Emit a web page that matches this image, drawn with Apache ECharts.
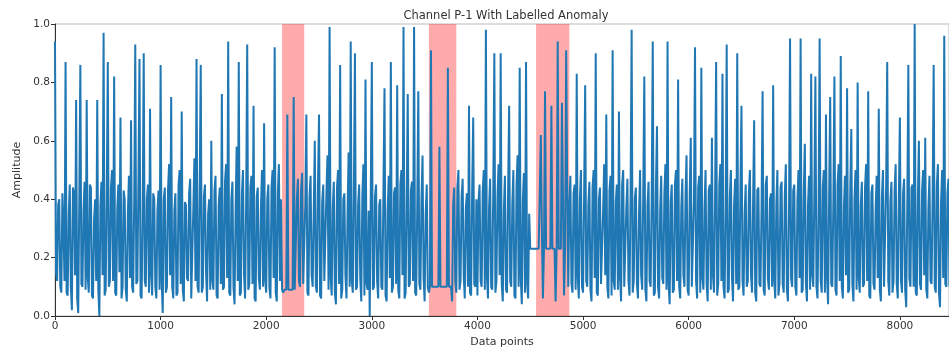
<!DOCTYPE html>
<html>
<head>
<meta charset="utf-8">
<title>Channel P-1 With Labelled Anomaly</title>
<script src="https://cdn.jsdelivr.net/npm/echarts@6/dist/echarts.min.js"></script>
<style>
  html, body { margin: 0; padding: 0; background: #fff; }
</style>
</head>
<body>
<div id="main" style="width: 949px; height: 354px;"></div>
<script>
// amplitude: "seg" values sit every 20 data points,
// "mid" values sit halfway between them (x = i*20 + 10)
var step = 20;
var seg0 = [0.94,0.12,0.40,0.08,0.30,0.87,0.07,0.45,0.02,0.42,0.74,0.01,0.86,0.10,0.46,0.74,0.08,0.44,0.06,0.40,
            0.74,0.00,0.46,0.97,0.09,0.87,0.12,0.50,0.82,0.07,0.45,0.68,0.10,0.40,0.05,0.48,0.67,0.08,0.93,0.12,
            0.88,0.06,0.90,0.10,0.45,0.71,0.07,0.40,0.06,0.43];
var seg1 = [0.86,0.01,0.44,0.10,0.52,0.75,0.06,0.42,0.08,0.50,0.70,0.05,0.38,0.12,0.47,0.06,0.54,0.88,0.08,0.86,
            0.10,0.45,0.05,0.40,0.60,0.09,0.48,0.06,0.44,0.76,0.10,0.52,0.94,0.07,0.46,0.04,0.58,0.87,0.08,0.50,
            0.06,0.93,0.11,0.48,0.72,0.05,0.44,0.09,0.50,0.66];
var seg2 = [0.08,0.45,0.06,0.50,0.92,0.05,0.52,0.40,0.08,0.09,0.69,0.09,0.09,0.75,0.09,0.47,0.10,0.49,0.11,0.69,
            0.07,0.48,0.10,0.60,0.08,0.69,0.06,0.45,0.12,0.55,0.99,0.07,0.46,0.04,0.50,0.86,0.09,0.42,0.06,0.56,
            0.94,0.08,0.90,0.10,0.45,0.05,0.52,0.81,0.09,0.00];
var seg3 = [0.87,0.10,0.45,0.06,0.40,0.09,0.78,0.05,0.48,0.87,0.10,0.44,0.79,0.06,0.50,0.99,0.08,0.76,0.11,0.46,
            0.99,0.07,0.77,0.09,0.55,0.05,0.45,0.08,0.91,0.10,0.10,0.10,0.58,0.10,0.10,0.10,0.85,0.10,0.05,0.44,
            0.08,0.50,0.12,0.47,0.06,0.42,0.72,0.07,0.68,0.10];
var seg4 = [0.07,0.45,0.10,0.50,0.98,0.06,0.47,0.09,0.90,0.12,0.52,0.90,0.05,0.48,0.08,0.72,0.10,0.50,0.06,0.55,
            0.85,0.04,0.49,0.87,0.06,0.23,0.23,0.23,0.23,0.23,0.62,0.06,0.77,0.23,0.23,0.72,0.23,0.05,0.94,0.23,
            0.73,0.07,0.91,0.10,0.48,0.08,0.45,0.83,0.06,0.50];
var seg5 = [0.08,0.79,0.10,0.46,0.05,0.50,0.90,0.07,0.44,0.11,0.52,0.69,0.06,0.48,0.91,0.09,0.45,0.70,0.05,0.50,
            0.10,0.47,0.07,0.98,0.12,0.44,0.06,0.50,0.09,0.82,0.05,0.46,0.10,0.94,0.08,0.65,0.06,0.48,0.11,0.52,
            0.94,0.04,0.45,0.09,0.50,0.81,0.06,0.47,0.10,0.55];
var seg6 = [0.07,0.61,0.10,0.92,0.06,0.48,0.85,0.09,0.50,0.05,0.45,0.61,0.08,0.87,0.11,0.52,0.83,0.06,0.93,0.09,
            0.50,0.05,0.47,0.90,0.10,0.72,0.07,0.45,0.12,0.50,0.08,0.67,0.05,0.44,0.10,0.77,0.07,0.48,0.09,0.42,
            0.79,0.06,0.50,0.11,0.46,0.08,0.52,0.05,0.95,0.10];
var seg7 = [0.45,0.07,0.50,0.95,0.09,0.59,0.05,0.48,0.83,0.10,0.82,0.06,0.95,0.08,0.50,0.69,0.04,0.75,0.10,0.82,
            0.07,0.52,0.89,0.06,0.48,0.78,0.09,0.64,0.05,0.50,0.80,0.08,0.46,0.11,0.52,0.77,0.06,0.45,0.09,0.48,
            0.71,0.05,0.50,0.10,0.87,0.07,0.46,0.12,0.52,0.06];
var seg8 = [0.68,0.08,0.47,0.03,0.86,0.10,0.45,1.00,0.07,0.60,0.09,0.50,0.61,0.06,0.48,0.11,0.86,0.08,0.52,0.03,
            0.50,0.96,0.10,0.47,0.30];

var mid0 = [0.15,0.38,0.10,0.42,0.12,0.08,0.35,0.10,0.44,0.14,0.06,0.40,0.11,0.36,0.09,0.13,0.45,0.07,0.33,0.12,
            0.09,0.38,0.14,0.07,0.41,0.10,0.44,0.12,0.08,0.37,0.15,0.06,0.43,0.09,0.35,0.13,0.10,0.39,0.11,0.46,
            0.07,0.34,0.12,0.40,0.08,0.14,0.42,0.10,0.36,0.09];
var mid1 = [0.12,0.40,0.08,0.43,0.14,0.10,0.36,0.07,0.45,0.11,0.09,0.39,0.13,0.42,0.06,0.37,0.12,0.10,0.44,0.08,
            0.41,0.15,0.35,0.09,0.12,0.43,0.07,0.38,0.11,0.09,0.46,0.13,0.08,0.40,0.10,0.36,0.12,0.07,0.42,0.14,
            0.39,0.09,0.44,0.11,0.06,0.41,0.13,0.37,0.10,0.12];
var mid2 = [0.40,0.10,0.44,0.13,0.08,0.42,0.12,0.09,0.09,0.09,0.09,0.09,0.09,0.09,0.40,0.12,0.43,0.11,0.38,0.08,
            0.41,0.14,0.36,0.10,0.45,0.07,0.39,0.12,0.42,0.09,0.13,0.37,0.08,0.44,0.11,0.06,0.40,0.14,0.35,0.10,
            0.12,0.43,0.09,0.38,0.13,0.41,0.07,0.11,0.36,0.42];
var mid3 = [0.09,0.41,0.12,0.38,0.10,0.44,0.07,0.36,0.13,0.08,0.42,0.11,0.09,0.45,0.14,0.06,0.39,0.10,0.43,0.12,
            0.08,0.37,0.11,0.40,0.13,0.35,0.10,0.10,0.10,0.10,0.10,0.10,0.10,0.10,0.10,0.10,0.10,0.10,0.38,0.12,
            0.44,0.09,0.41,0.14,0.37,0.10,0.08,0.43,0.11,0.40];
var mid4 = [0.39,0.12,0.43,0.09,0.13,0.37,0.10,0.44,0.08,0.41,0.14,0.11,0.36,0.09,0.42,0.12,0.38,0.07,0.45,0.10,
            0.13,0.40,0.08,0.11,0.35,0.23,0.23,0.23,0.23,0.23,0.30,0.23,0.23,0.23,0.23,0.23,0.23,0.23,0.23,0.23,
            0.40,0.23,0.45,0.38,0.11,0.42,0.09,0.13,0.40,0.10];
var mid5 = [0.41,0.12,0.38,0.09,0.44,0.13,0.08,0.40,0.11,0.36,0.14,0.10,0.43,0.07,0.12,0.39,0.09,0.13,0.45,0.10,
            0.37,0.12,0.42,0.08,0.40,0.11,0.35,0.14,0.43,0.09,0.38,0.12,0.41,0.07,0.44,0.10,0.36,0.13,0.42,0.09,
            0.11,0.39,0.08,0.45,0.12,0.10,0.37,0.14,0.41,0.09];
var mid6 = [0.42,0.10,0.39,0.12,0.44,0.08,0.13,0.37,0.11,0.43,0.09,0.14,0.40,0.07,0.45,0.12,0.10,0.36,0.08,0.41,
            0.13,0.38,0.11,0.09,0.44,0.12,0.35,0.10,0.42,0.14,0.39,0.08,0.43,0.11,0.37,0.09,0.45,0.13,0.40,0.10,
            0.12,0.38,0.07,0.44,0.11,0.41,0.09,0.36,0.13,0.43];
var mid7 = [0.10,0.40,0.13,0.08,0.43,0.11,0.38,0.09,0.14,0.42,0.10,0.36,0.12,0.44,0.08,0.13,0.41,0.11,0.39,0.09,
            0.45,0.12,0.10,0.37,0.14,0.08,0.43,0.11,0.40,0.09,0.13,0.38,0.10,0.44,0.12,0.07,0.42,0.11,0.36,0.13,
            0.09,0.41,0.10,0.45,0.12,0.39,0.08,0.43,0.11,0.40];
var mid8 = [0.12,0.42,0.09,0.38,0.13,0.44,0.10,0.08,0.40,0.11,0.43,0.14,0.09,0.37,0.12,0.41,0.10,0.45,0.08,0.39,
            0.13,0.11,0.42,0.10,0.36];

var amplitude = [].concat(seg0, seg1, seg2, seg3, seg4, seg5, seg6, seg7, seg8);
var amplitudeMid = [].concat(mid0, mid1, mid2, mid3, mid4, mid5, mid6, mid7, mid8);

// labelled anomaly windows (data point ranges)
var anomalies = [[2150, 2360], [3540, 3800], [4555, 4870]];

var xMax = 8465;
var yTicks = [0, 0.2, 0.4, 0.6, 0.8, 1.0];

var points = [];
amplitude.forEach(function (v, i) {
  points.push([i * step, v]);
  points.push([i * step + step / 2, amplitudeMid[i]]);
});

var font = 'DejaVu Sans';
var chart = echarts.init(document.getElementById('main'));
chart.setOption({
  animation: false,
  backgroundColor: '#fff',
  title: {
    text: 'Channel P-1 With Labelled Anomaly',
    left: 501, top: 5, textAlign: 'center',
    textStyle: { fontFamily: font, fontSize: 11.5, fontWeight: 'normal', color: '#333' }
  },
  grid: {
    left: 55, right: 0, top: 24, bottom: 38,
    show: true, borderColor: '#bbb', borderWidth: 1
  },
  xAxis: {
    type: 'value', min: 0, max: xMax, interval: 1000,
    name: 'Data points', nameLocation: 'middle', nameGap: 21,
    nameTextStyle: { fontFamily: font, fontSize: 11, color: '#333' },
    axisLine: { lineStyle: { color: '#333' } },
    axisTick: { show: true, length: 4, lineStyle: { color: '#333' } },
    axisLabel: { fontFamily: font, fontSize: 10.5, color: '#333', margin: 5, showMaxLabel: false,
      formatter: function (v) { return String(v); } },
    splitLine: { show: false }
  },
  yAxis: {
    type: 'value', min: yTicks[0], max: yTicks[yTicks.length - 1], interval: 0.2,
    name: 'Amplitude', nameLocation: 'middle', nameGap: 31,
    nameTextStyle: { fontFamily: font, fontSize: 11, color: '#333' },
    axisLine: { show: true, lineStyle: { color: '#333' } },
    axisTick: { show: true, length: 4, lineStyle: { color: '#333' } },
    axisLabel: { fontFamily: font, fontSize: 10.5, color: '#333', margin: 5,
      formatter: function (v) { return v.toFixed(1); } },
    splitLine: { show: false }
  },
  series: [{
    type: 'line',
    data: points,
    showSymbol: false,
    sampling: 'none',
    lineStyle: { color: '#1f77b4', width: 2 },
    itemStyle: { color: '#1f77b4' },
    markArea: {
      silent: true,
      itemStyle: { color: 'rgba(255,0,0,0.33)' },
      data: anomalies.map(function (a) { return [{ xAxis: a[0] }, { xAxis: a[1] }]; })
    }
  }]
});
</script>
</body>
</html>
